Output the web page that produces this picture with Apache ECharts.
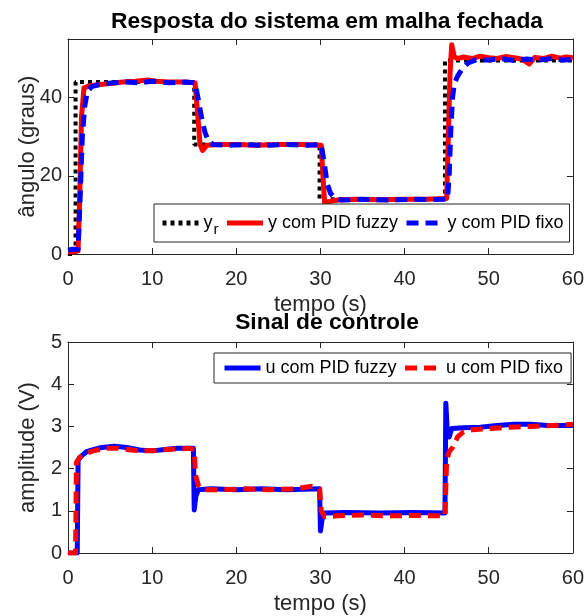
<!DOCTYPE html>
<html>
<head>
<meta charset="utf-8">
<script src="https://cdn.jsdelivr.net/npm/echarts@6/dist/echarts.min.js"></script>
<style>
  html, body { margin: 0; padding: 0; background: #fff; }
  #chart { width: 587px; height: 616px; }
</style>
</head>
<body>
<div id="chart"></div>
<script>
// referência (degraus)
const tRef = [0, 0.9, 15, 29.9, 44.8, 60]
const yRef = [0, 44, 28, 14, 49.5, 49.5]

// saída com PID fuzzy
const tYFuzzy = [0, 0.6, 1.2, 1.4, 1.6, 1.9, 2.5, 3.5, 5, 6.5, 8, 9.5, 10.5, 12, 13.5, 15.1, 15.4, 15.7, 16, 16.5, 18, 20, 22.5, 25, 27.5, 30.1, 30.3, 30.5, 31, 32, 34, 37, 40, 42.5, 45, 45.2, 45.4, 45.6, 45.9, 46.3, 47, 48, 49, 50, 51, 52, 53, 54, 54.8, 55.5, 56.5, 57.5, 58.5, 59.2, 60]
const yFuzzy = [0.5, 0.6, 0.8, 15, 35, 42.5, 43, 43.3, 43.6, 44, 44.2, 44.5, 44.2, 44, 44, 43.8, 36, 28, 26.5, 27.8, 28, 28, 27.8, 28, 28, 27.8, 20, 13, 13.4, 13.8, 14, 13.9, 14, 14, 14.2, 30, 46, 53.5, 50.5, 50, 50.4, 50, 50.6, 50.2, 50, 50.5, 50.2, 49.8, 48.6, 50.3, 50, 50.6, 50.1, 50.4, 50.2]

// saída com PID fixo
const tYFixo = [0, 0.5, 1.2, 1.4, 1.7, 2, 2.3, 2.8, 4, 5.5, 7, 8.5, 10, 12, 14, 15.1, 15.4, 15.7, 16, 16.3, 16.7, 17.3, 19, 21, 23, 26, 28, 30.1, 30.4, 30.8, 31.2, 31.7, 32.5, 35, 38, 41, 43, 45.1, 45.3, 45.5, 45.7, 45.9, 46.3, 46.8, 47.5, 48.5, 50, 51.5, 53, 54.5, 56, 57.5, 59, 60]
const yFixo = [1, 1.2, 1.2, 12, 30, 38, 41.5, 42.8, 43.5, 43.8, 44, 43.8, 44.2, 43.8, 44, 43.8, 40.5, 37, 33.5, 31, 28.8, 28, 27.8, 28, 27.8, 28, 27.8, 28, 24, 18, 15.5, 14.3, 13.8, 14, 13.8, 14, 13.9, 14, 20, 32, 40, 43.5, 45.5, 47.2, 48.8, 49.7, 49.6, 50, 49.5, 49.9, 49.6, 50, 49.6, 49.8]

// sinal de controle com PID fuzzy
const tUFuzzy = [0, 1.1, 1.2, 1.6, 2.2, 3, 4, 5.5, 7, 8.5, 10, 11.5, 13, 14.9, 15, 15.2, 15.5, 17, 20, 23, 26, 29.9, 30, 30.2, 30.5, 33, 37, 41, 44.8, 44.9, 45.05, 45.3, 45.6, 47, 49, 51, 53, 55, 57, 60]
const uFuzzy = [0, 0, 2.2, 2.3, 2.4, 2.45, 2.5, 2.53, 2.5, 2.44, 2.42, 2.45, 2.48, 2.48, 1.02, 1.35, 1.5, 1.52, 1.5, 1.52, 1.5, 1.52, 0.52, 0.8, 0.95, 0.96, 0.95, 0.96, 0.95, 3.55, 3.0, 2.75, 2.95, 2.97, 2.98, 3.02, 3.05, 3.05, 3.02, 3.02]

// sinal de controle com PID fixo
const tUFixo = [0, 0.9, 1, 1.4, 2, 3, 4.5, 6, 7.5, 9, 10.5, 12, 14.5, 15, 15.15, 15.5, 16, 18, 21, 24, 27, 29, 29.9, 30.1, 30.5, 32, 35, 38, 41, 44.8, 45, 45.3, 45.7, 46.3, 47, 48, 50, 52.5, 55, 57.5, 60]
const uFixo = [0, 0, 2.15, 2.27, 2.35, 2.42, 2.48, 2.48, 2.44, 2.42, 2.43, 2.46, 2.48, 2.45, 1.85, 1.6, 1.5, 1.5, 1.52, 1.5, 1.52, 1.58, 1.52, 1, 0.86, 0.88, 0.9, 0.88, 0.89, 0.88, 2.2, 2.4, 2.5, 2.75, 2.87, 2.92, 2.95, 2.98, 3, 3.02, 3.05]

const xTicks = { min: 0, max: 60, interval: 10 }

const zip = (t, v) => t.map((x, i) => [x, v[i]])

const font = "'Liberation Sans', Arial, Helvetica, sans-serif"
const ink = '#262626'

const chart = echarts.init(document.getElementById('chart'), null, { renderer: 'canvas' })

const boxAxis = (grid, pos, extra) => Object.assign({
  gridIndex: grid,
  position: pos,
  nameMoveOverlap: false,
  axisLine: { show: true, onZero: false, lineStyle: { color: ink, width: 1 } },
  axisTick: { show: true, inside: true, length: 6, lineStyle: { color: ink } },
  axisLabel: { show: false },
  splitLine: { show: false }
}, extra)

const mainX = grid => boxAxis(grid, 'bottom', {
  type: 'value', ...xTicks,
  name: 'tempo (s)', nameLocation: 'middle', nameGap: 40,
  nameTextStyle: { fontSize: 22, color: ink, fontFamily: font },
  axisLabel: { show: true, fontSize: 20, color: ink, margin: 15, fontFamily: font }
})

const legendBase = {
  orient: 'horizontal',
  itemWidth: 36,
  itemHeight: 14,
  itemGap: 6,
  backgroundColor: '#fff',
  borderColor: ink,
  borderWidth: 1,
  borderRadius: 0,
  lineStyle: { width: 5 },
  itemStyle: { opacity: 0 },
  textStyle: {
    fontSize: 18, color: '#000', fontFamily: font,
    rich: {
      m: { fontSize: 18, color: '#000', fontFamily: font, lineHeight: 18, padding: [5, 0, 5, 0] },
      s: { fontSize: 15, color: '#000', fontFamily: font, lineHeight: 15, padding: [13, 0, 0, 1] }
    }
  },
  formatter: name => name === 'yr' ? '{m|y}{s|r}' : name
}

const option = {
  animation: false,
  backgroundColor: '#fff',
  textStyle: { fontFamily: font },
  title: [
    { text: 'Resposta do sistema em malha fechada', left: 327, top: 10, padding: 0, textAlign: 'center',
      textStyle: { fontSize: 22.8, fontWeight: 'bold', color: '#000', fontFamily: font } },
    { text: 'Sinal de controle', left: 327, top: 311, padding: 0, textAlign: 'center',
      textStyle: { fontSize: 22.8, fontWeight: 'bold', color: '#000', fontFamily: font } }
  ],
  grid: [
    { left: 68, top: 39, width: 515, height: 215 },
    { left: 68, top: 342, width: 515, height: 213 }
  ],
  xAxis: [
    mainX(0),
    boxAxis(0, 'top', { type: 'value', ...xTicks }),
    mainX(1),
    boxAxis(1, 'top', { type: 'value', ...xTicks })
  ],
  yAxis: [
    boxAxis(0, 'left', {
      type: 'value', min: 0, max: 55, interval: 20,
      name: 'ângulo (graus)', nameLocation: 'middle', nameGap: 29,
      nameTextStyle: { fontSize: 22, color: ink, fontFamily: font },
      axisLabel: { show: true, fontSize: 20, color: ink, margin: 6, fontFamily: font,
        formatter: v => (v % 20 === 0 ? String(v) : '') }
    }),
    boxAxis(0, 'right', { type: 'value', min: 0, max: 55, interval: 20 }),
    boxAxis(1, 'left', {
      type: 'value', min: 0, max: 5, interval: 1,
      name: 'amplitude (V)', nameLocation: 'middle', nameGap: 29,
      nameTextStyle: { fontSize: 22, color: ink, fontFamily: font },
      axisLabel: { show: true, fontSize: 20, color: ink, margin: 6, fontFamily: font }
    }),
    boxAxis(1, 'right', { type: 'value', min: 0, max: 5, interval: 1 })
  ],
  legend: [
    Object.assign({}, legendBase, {
      data: ['yr', 'y com PID fuzzy', 'y com PID fixo'],
      left: 154, top: 204, padding: [5, 6]
    }),
    Object.assign({}, legendBase, {
      data: ['u com PID fuzzy', 'u com PID fixo'],
      left: 214, top: 353, padding: [6, 8]
    })
  ],
  series: [
    {
      name: 'yr', type: 'line', step: 'end', xAxisIndex: 0, yAxisIndex: 0,
      data: zip(tRef, yRef), symbol: 'none',
      lineStyle: { color: '#000', width: 4, type: [4, 4], cap: 'butt' },
      itemStyle: { color: '#000' }
    },
    {
      name: 'y com PID fuzzy', type: 'line', xAxisIndex: 0, yAxisIndex: 0,
      data: zip(tYFuzzy, yFuzzy), symbol: 'none',
      lineStyle: { color: '#ff0000', width: 5, join: 'round' },
      itemStyle: { color: '#ff0000' }
    },
    {
      name: 'y com PID fixo', type: 'line', xAxisIndex: 0, yAxisIndex: 0,
      data: zip(tYFixo, yFixo), symbol: 'none',
      lineStyle: { color: '#0000ff', width: 5, type: [12, 7], join: 'round' },
      itemStyle: { color: '#0000ff' }
    },
    {
      name: 'u com PID fuzzy', type: 'line', xAxisIndex: 2, yAxisIndex: 2,
      data: zip(tUFuzzy, uFuzzy), symbol: 'none',
      lineStyle: { color: '#0000ff', width: 5, join: 'round' },
      itemStyle: { color: '#0000ff' }
    },
    {
      name: 'u com PID fixo', type: 'line', xAxisIndex: 2, yAxisIndex: 2,
      data: zip(tUFixo, uFixo), symbol: 'none',
      lineStyle: { color: '#ff0000', width: 5, type: [12, 7], join: 'round' },
      itemStyle: { color: '#ff0000' }
    }
  ]
}

chart.setOption(option)
</script>
</body>
</html>
